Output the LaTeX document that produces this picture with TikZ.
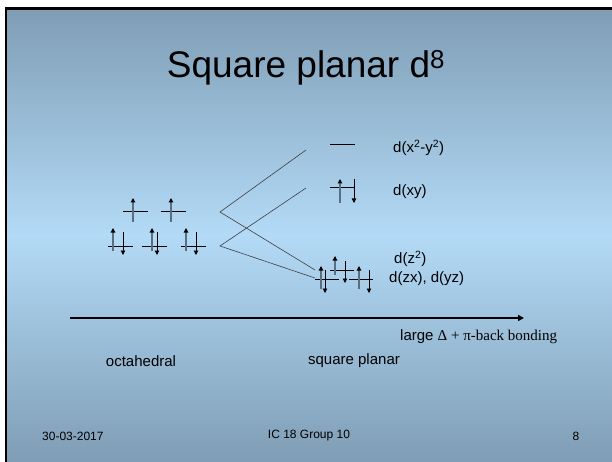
\documentclass[tikz,border=0pt]{standalone}
\usepackage{fontspec}
\setmainfont{Liberation Sans}
\newfontfamily\timesfont{Liberation Serif}
\usepackage{xcolor}
\definecolor{slideedge}{HTML}{7F9DB5}
\definecolor{slidemid}{HTML}{B3DAF6}
\definecolor{upstem}{HTML}{5A6E80}
\usepackage{tikz}
\usetikzlibrary{arrows.meta}

\tikzset{
  level/.style={line width=1pt},
  spinup/.style={line width=1.4pt, upstem, -{Triangle[length=4.5pt,width=4.5pt,color=black]}},
  spindown/.style={line width=0.8pt, -{Triangle[length=4.5pt,width=4.5pt]}},
  corr/.style={line width=0.6pt, black!75},
  lbl/.style={font=\fontsize{15}{18}\selectfont, inner sep=0pt},
  foot/.style={font=\fontsize{12}{14}\selectfont, inner sep=0pt},
}

\begin{document}
\begin{tikzpicture}[x=1pt,y=-1pt]
  \useasboundingbox (0,0) rectangle (612,462);
  % arka plan ve çerçeve
  \shade[top color=slideedge, bottom color=slideedge, middle color=slidemid] (6,8) rectangle (612,462);
  \draw[line width=2.5pt] (6,462) -- (6,8.5) -- (612,8.5);

  % başlık
  \node[font=\fontsize{37}{44}\selectfont, anchor=base, inner sep=0pt] (title) at (306,78) {Square planar d\textsuperscript{8}};

  % oktahedral: üst iki seviye (eg), birer elektron
  \draw[level] (123,212) -- (148,212);
  \draw[spinup] (133,222) -- (133,198);
  \draw[level] (161,212) -- (186,212);
  \draw[spinup] (171,222) -- (171,198);

  % oktahedral: alt üç seviye (t2g), dolu
  \draw[level] (108,246) -- (133,246);
  \draw[spinup] (113,251) -- (113,228);
  \draw[spindown] (123,232) -- (123,255);
  \draw[level] (142,246) -- (167,246);
  \draw[spinup] (152,251) -- (152,228);
  \draw[spindown] (157,232) -- (157,255);
  \draw[level] (181,246) -- (206,246);
  \draw[spinup] (186,251) -- (186,228);
  \draw[spindown] (196,232) -- (196,255);

  % kare düzlem: d(x2-y2) boş, d(xy) dolu
  \draw[level] (330,145) -- (355,145);
  \draw[level] (330,188) -- (355,188);
  \draw[spinup] (340,203) -- (340,179);
  \draw[spindown] (354,179) -- (354,203);

  % kare düzlem: d(z2), d(zx), d(yz)
  \draw[level] (330,270) -- (354,270);
  \draw[spinup] (335,275) -- (335,256);
  \draw[spindown] (345,261) -- (345,283);
  \draw[level] (315,279) -- (339,279);
  \draw[spinup] (321,289) -- (321,266);
  \draw[spindown] (325,270) -- (325,293);
  \draw[level] (349,279) -- (373,279);
  \draw[spinup] (359,289) -- (359,266);
  \draw[spindown] (369,270) -- (369,293);

  % korelasyon çizgileri
  \coordinate (eg) at (220,212);
  \coordinate (t2g) at (220,246);
  \coordinate (dx2y2) at (306,150);
  \coordinate (dxy) at (306,188);
  \coordinate (dz2) at (315,270);
  \coordinate (dzx) at (315,278);
  \draw[corr] (dx2y2) -- (eg) -- (dz2);
  \draw[corr] (dxy) -- (t2g) -- (dzx);

  % orbital etiketleri
  \node[lbl, anchor=west] (lx2y2) at (393,148) {d(x\textsuperscript{2}-y\textsuperscript{2})};
  \node[lbl, anchor=west] (lxy) at (393,192) {d(xy)};
  \node[lbl, anchor=west] (lz2) at (394,259) {d(z\textsuperscript{2})};
  \node[lbl, anchor=west] (lzx) at (389,279) {d(zx), d(yz)};

  % ligand alanı ekseni
  \coordinate (axstart) at (70,318);
  \coordinate (axend) at (524,318);
  \draw[line width=2pt, -{Triangle[length=6pt,width=6pt]}] (axstart) -- (axend);
  \node[lbl, anchor=base west] (bonding) at (400,340) {large {\timesfont Δ + π-back bonding}};

  % geometri adları
  \node[lbl] (octa) at (141,361) {octahedral};
  \node[lbl] (sqpl) at (354,361) {square planar};

  % alt bilgi
  \node[foot, anchor=west] (date) at (42,436) {30-03-2017};
  \node[foot] (group) at (309,436) {IC 18 Group 10};
  \node[foot] (page) at (576,436) {8};
\end{tikzpicture}
\end{document}
